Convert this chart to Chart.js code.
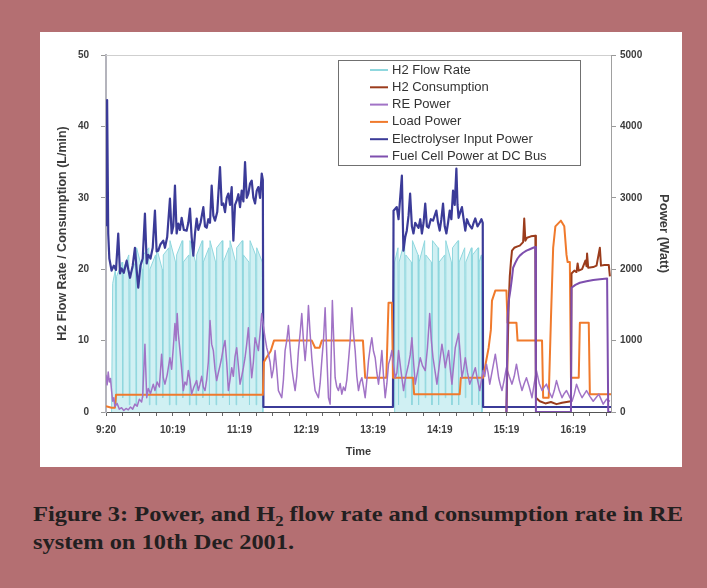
<!DOCTYPE html>
<html><head><meta charset="utf-8">
<script src="https://cdn.jsdelivr.net/npm/chart.js@4.4.1/dist/chart.umd.min.js"></script>
<style>
html,body{margin:0;padding:0;width:707px;height:588px;background:#b46f72;overflow:hidden}
#panel{position:absolute;left:40px;top:32px;width:642px;height:435px;background:#fff}
#c{position:absolute;left:0;top:0}
#cap{position:absolute;left:33px;top:500px;font:bold 22px 'Liberation Serif','Times New Roman',serif;line-height:28px;color:#231f20;white-space:nowrap;transform:scaleX(1.11);transform-origin:0 0}
#cap sub{font-size:15px;vertical-align:-5px;line-height:0}
</style></head><body>
<div id="panel"><canvas id="c" width="642" height="435"></canvas></div>
<div id="cap">Figure 3: Power, and H<sub>2</sub> flow rate and consumption rate in RE<br>system on 10th Dec 2001.</div>
<script>
// time axis: minutes after 9:20
const timeLabels = ['9:20','10:19','11:19','12:19','13:19','14:19','15:19','16:19'];
const xTickValues = [0,15,30,45,60,75,90,105,120,135,150,165,180,195,210,225,240,255,270,285,300,315,330,345,360,375,390,405,420,435,450];
const leftTicks = [0,10,20,30,40,50];
const rightTicks = [0,1000,2000,3000,4000,5000];

// [minute, L/min]
const h2FlowRate = [[5,0],[6,18],[8.5,20],[9,1],[9.5,19],[14.5,21],[15,2],[15.5,20],[20.5,22],[21,1],[21.5,19],[26.5,21],[27,1],[27.5,23],[32.5,20],[33,2],[33.5,22],[38.5,23],[39,1],[39.5,20],[44.5,22],[45,1],[45.5,23],[50.5,20],[51,2],[51.5,22],[56.5,23],[57,1],[57.5,24],[62.5,21],[63,1],[63.5,22],[68.5,24],[69,2],[69.5,21],[74.5,22],[75,1],[75.5,24],[80.5,21],[81,1],[81.5,22],[86.5,24],[87,2],[87.5,21],[92.5,23],[93,1],[93.5,24],[98.5,21],[99,1],[99.5,23],[104.5,24],[105,2],[105.5,21],[110.5,23],[111,1],[111.5,24],[116.5,21],[117,1],[117.5,23],[122.5,24],[123,2],[123.5,22],[128.5,21],[129,1],[129.5,24],[134.5,22],[135,1],[135.5,23],[140.5,21],[141,0],[200,null],[259,0],[259.5,21],[262.5,23],[263,1],[263.5,21],[268.5,24],[269,2],[269.5,22],[274.5,21],[275,1],[275.5,24],[280.5,22],[281,1],[281.5,21],[286.5,24],[287,2],[287.5,22],[292.5,21],[293,1],[293.5,24],[298.5,23],[299,1],[299.5,21],[304.5,22],[305,2],[305.5,24],[310.5,21],[311,1],[311.5,23],[316.5,24],[317,1],[317.5,21],[322.5,23],[323,2],[323.5,21],[328.5,23],[329,1],[329.5,22],[334.5,23],[335,1],[335.5,21],[337.5,22],[338,0]];

// [minute, L/min]
const h2Consumption = [[360,0],[361,8],[362,15],[363,19],[364,21],[365,22.6],[367,23],[370,23.2],[372,23.3],[375,23.8],[376,27.1],[377,24],[378.5,24.4],[382,24.6],[386,24.7],[386.5,2],[390,1.5],[395,1.2],[400,1.4],[405,1.1],[410,1.3],[418,1.5],[418.5,19.4],[421,19.8],[423,19.6],[424,20.8],[425,19.8],[428,20],[431,21.2],[432,20.4],[432.5,22.2],[433.5,20.2],[438,20.3],[441,20.5],[444,23],[445,20.5],[448,20.6],[452,20.6],[453,19]];

// [minute, W]
const rePower = [[0,520],[1,380],[2,560],[3,420],[4,470],[5,300],[6,150],[7,200],[8,80],[10,120],[12,40],[14,60],[16,20],[18,50],[20,30],[22,70],[24,40],[26,110],[28,80],[30,180],[32,140],[33,230],[35,950],[36.6,200],[38,330],[40,260],[42.5,390],[44,300],[46,420],[48,350],[50,810],[51.5,480],[53,390],[55,520],[57.5,760],[59,600],[60.5,900],[62,1240],[63,1000],[64,1380],[65,1100],[66.5,860],[68,600],[69.5,300],[71,420],[72.5,380],[74,580],[75.5,450],[77,250],[79,350],[81.5,440],[83,300],[84.5,390],[86,500],[87.5,350],[89,300],[90.5,450],[92,700],[93.5,1280],[95,950],[96.5,860],[98,600],[99.5,440],[101,550],[102.5,650],[104,760],[105.5,900],[107,1000],[108.5,700],[110,300],[111.5,450],[113,620],[114.5,500],[116,780],[117.5,900],[119,650],[120.5,390],[122,500],[123.5,620],[125,760],[126.5,950],[128,1180],[129.5,800],[131,480],[132.5,700],[134,1040],[135.5,950],[137,860],[138.5,1100],[140,1380],[141.5,1200],[143,1040],[144.5,900],[146,810],[147.5,700],[149,480],[150.5,600],[152,860],[153.5,600],[155,300],[156.5,250],[158,200],[159.5,450],[161,860],[162.5,1000],[164,1210],[165.5,900],[167,620],[168.5,450],[170,300],[171.5,500],[173,860],[174.5,1100],[176,1380],[177.5,1000],[179,720],[180.5,1000],[182,1490],[183.5,1100],[185,760],[186.5,500],[188,300],[189.5,250],[191,200],[192.5,400],[194,720],[195.5,1000],[197,1460],[198.5,800],[200,200],[201.5,110],[203.5,1560],[205,900],[206,480],[207.5,350],[209,300],[210.5,400],[212,250],[213.5,350],[215,300],[216.5,450],[218,720],[219.5,1000],[221,1460],[222.5,1100],[224,860],[225.5,500],[227,300],[228.5,420],[230,480],[231.5,350],[233,200],[234.5,450],[236,720],[237.5,900],[239,1040],[240.5,850],[242,760],[243.5,550],[245,390],[246.5,600],[248,860],[249.5,500],[251,200],[252.5,400],[254,670],[255.5,750],[257,860],[258.5,650],[260,480],[261.5,550],[263,860],[265,600],[267.5,300],[269.5,500],[272,670],[273.5,800],[275,1040],[276.5,700],[278,390],[280,550],[282.5,760],[284.5,650],[287,580],[289,900],[291,1380],[292.5,1000],[294,760],[296,550],[297.5,390],[300,700],[302,950],[303.5,800],[305,620],[306.5,750],[308,860],[309.5,600],[311,390],[312.5,650],[314,900],[315.5,1000],[317,1100],[318.5,800],[320,480],[321.5,600],[323,760],[325,550],[327,390],[329.5,500],[332,620],[334,450],[336,300],[337.5,450],[339,580],[340.5,500],[342,670],[343.5,550],[345,390],[347.5,600],[350,810],[351.5,650],[353,480],[354.5,380],[356,300],[358,450],[360,620],[362.5,500],[365,390],[367,500],[369,670],[371.5,450],[374,300],[376,400],[378,480],[380.5,350],[383,200],[385,400],[387,580],[389.5,400],[392,300],[394,350],[396,390],[398.5,280],[401,200],[403,300],[405,440],[407.5,300],[410,200],[412,260],[414,300],[416.5,220],[419,150],[421,250],[423,390],[425.5,280],[428,200],[430,250],[432,300],[435,220],[438,150],[440.5,200],[443,250],[445,180],[447,110],[450,180],[453,150]];

// [minute, W]
const loadPower = [[0,80],[5,60],[8,60],[9,240],[141,240],[142,700],[145,780],[148,850],[151,1000],[185,1000],[188,900],[192,900],[194,1000],[231,1000],[233,480],[252,480],[253,1000],[254,1530],[257,1530],[258,480],[276,480],[277,250],[318,250],[319,480],[339,480],[341,650],[344,900],[346,1150],[347,1560],[350,1700],[360,1700],[361,1250],[369,1250],[370,1000],[392,1000],[393,200],[398,200],[400,1300],[402,2300],[404,2600],[409,2680],[412,2600],[414,2200],[415,2100],[417,2100],[418,480],[425,480],[426,1250],[434,1250],[435,250],[454,250]];

// [minute, W]
const electrolyserPower = [[0,2600],[1,4370],[2,2500],[3,2150],[5,1980],[7,2050],[9,1990],[11,2500],[12.6,1940],[14,2010],[16,1950],[18.6,2120],[20,2000],[21.6,1880],[24,2050],[26,2300],[27.5,2000],[29,1740],[31,2050],[33,2150],[35,2780],[36.6,2080],[38,2200],[40,2150],[42,2300],[44,2820],[45.5,2250],[47,2260],[49,2350],[51.5,2400],[53,2300],[55,2450],[57.5,2990],[59,2500],[60.5,2600],[62,3170],[63.5,2500],[65,2640],[66.5,2550],[68,2720],[70,2550],[72.5,2540],[74,2650],[75.5,2850],[77,2450],[78.5,2190],[80,2500],[81.5,2710],[83,2550],[85,2650],[87.5,2870],[89,2600],[90.5,2580],[92,2700],[93.5,2650],[95,3170],[96.5,2750],[98,2680],[100,2800],[102.5,3430],[104,2900],[105.5,2920],[107,2800],[108.5,3000],[110,3060],[111.5,2900],[113,3150],[114.5,2400],[116,2900],[117.5,2960],[119,3050],[120.5,2870],[122,3100],[123.5,2950],[125,3500],[126.5,3000],[128,3060],[129.5,3200],[131,3240],[132.5,3000],[134,2920],[135.5,3100],[137,3150],[138.5,3000],[140,3340],[141,3250],[141.5,70],[258,70],[258.5,2820],[261.4,2870],[263,2700],[266,3310],[267.4,2260],[269,2450],[270.4,2540],[272,2750],[273.4,3060],[275,2600],[276.4,2500],[278,2650],[281,2580],[282.5,2700],[284,2500],[285.5,2650],[287,2920],[288.5,2600],[290,2580],[292,2700],[294,2680],[295.5,2750],[297,2820],[298.5,2650],[300,2540],[301.5,2700],[303,2920],[304.5,2600],[306,2500],[307.5,2650],[309,2820],[310.5,2700],[312,3100],[313.5,2900],[315,3410],[316,2900],[317,2720],[318.5,2800],[320,2870],[321.5,2700],[323,2540],[324.5,2700],[326,2640],[327.5,2600],[329,2570],[330.5,2650],[332,2710],[334,2600],[336,2650],[337.5,2700],[338.7,2650],[339,70],[454,70]];

// [minute, W]
const fuelCellPower = [[360,0],[361,1300],[362,1550],[363.5,1700],[365,1880],[366,2020],[368,2090],[370,2150],[372,2190],[375,2230],[378,2260],[381,2280],[384,2300],[386,2310],[386.5,0],[418,0],[418.5,1740],[422,1780],[426,1810],[432,1830],[438,1850],[444,1860],[450.5,1870],[451.5,0],[454,0]];

const pts = arr => arr.map(p => ({x: p[0], y: p[1]}));

const FONT = "'Liberation Sans', Arial, sans-serif";
Chart.defaults.font.family = FONT;
Chart.defaults.color = '#3c3c3c';

const frame = {
  id: 'frame',
  beforeDatasetsDraw(chart) {
    const {ctx, chartArea: a} = chart;
    ctx.save();
    ctx.strokeStyle = '#cfcfcf';
    ctx.lineWidth = 1;
    ctx.beginPath();
    ctx.moveTo(a.left, a.top + 0.5);
    ctx.lineTo(a.right, a.top + 0.5);
    ctx.stroke();
    ctx.restore();
  }
};

const legendBox = {
  id: 'legendBox',
  afterDraw(chart) {
    const c = chart.ctx;
    const L = 298, T = 28, W = 242, H = 105;
    c.save();
    c.fillStyle = '#fff';
    c.fillRect(L, T, W, H);
    c.strokeStyle = '#707070';
    c.lineWidth = 1;
    c.strokeRect(L + 0.5, T + 0.5, W, H);
    c.font = "13px " + FONT;
    c.textBaseline = 'middle';
    chart.data.datasets.forEach((d, i) => {
      const y = T + 10 + i * 17.3;
      c.strokeStyle = d.borderColor;
      c.lineWidth = 2;
      c.beginPath();
      c.moveTo(L + 32, y);
      c.lineTo(L + 50, y);
      c.stroke();
      c.fillStyle = '#333';
      c.fillText(d.label, L + 54, y);
    });
    c.restore();
  }
};

const tickFont = {size: 10, weight: 'bold'};

new Chart(document.getElementById('c'), {
  type: 'line',
  data: {
    datasets: [
      {label: 'H2 Flow Rate', data: pts(h2FlowRate), yAxisID: 'yL', borderColor: '#8fd7de', backgroundColor: '#d0f0f3', fill: 'origin', borderWidth: 1, order: 6},
      {label: 'H2 Consumption', data: pts(h2Consumption), yAxisID: 'yL', borderColor: '#9b3c1c', borderWidth: 2, order: 2},
      {label: 'RE Power', data: pts(rePower), yAxisID: 'yR', borderColor: '#a173c6', borderWidth: 1.5, order: 3},
      {label: 'Load Power', data: pts(loadPower), yAxisID: 'yR', borderColor: '#f07a2c', borderWidth: 2, order: 4},
      {label: 'Electrolyser Input Power', data: pts(electrolyserPower), yAxisID: 'yR', borderColor: '#3b3b98', borderWidth: 2.2, order: 5},
      {label: 'Fuel Cell Power at DC Bus', data: pts(fuelCellPower), yAxisID: 'yR', borderColor: '#7e4fae', borderWidth: 2, order: 1}
    ]
  },
  options: {
    responsive: false,
    animation: false,
    layout: {padding: {top: 23, left: 0, right: 0, bottom: 0}},
    elements: {point: {radius: 0}, line: {tension: 0, borderJoinStyle: 'round'}},
    plugins: {legend: {display: false}, tooltip: {enabled: false}},
    scales: {
      x: {
        type: 'linear', min: 0, max: 454,
        afterBuildTicks: a => { a.ticks = xTickValues.map(v => ({value: v})); },
        ticks: {autoSkip: false, maxRotation: 0, padding: 8, font: tickFont,
          callback: v => (v % 60 === 0 ? timeLabels[v / 60] : '')},
        grid: {drawOnChartArea: false, tickLength: 4, tickColor: '#666'},
        border: {color: '#555', width: 1},
        title: {display: true, text: 'Time', font: {size: 11, weight: 'bold'}, padding: {top: 0, bottom: 8}},
        afterFit: s => { s.height = 55; }
      },
      yL: {
        position: 'left', min: 0, max: 50,
        afterBuildTicks: a => { a.ticks = leftTicks.map(v => ({value: v})); },
        ticks: {padding: 12, font: tickFont, callback: v => String(v)},
        grid: {drawOnChartArea: false, tickLength: 5, tickColor: '#999'},
        border: {color: '#b4b4bc', width: 2},
        title: {display: true, text: 'H2 Flow Rate / Consumption (L/min)', font: {size: 12.5, weight: 'bold'}, padding: {top: 15, bottom: 0}},
        afterFit: s => { s.width = 66; }
      },
      yR: {
        position: 'right', min: 0, max: 5000,
        afterBuildTicks: a => { a.ticks = rightTicks.map(v => ({value: v})); },
        ticks: {padding: 4, font: tickFont, callback: v => String(v)},
        grid: {drawOnChartArea: false, tickLength: 5, tickColor: '#999'},
        border: {color: '#a0a0a0', width: 1},
        title: {display: true, text: 'Power (Watt)', font: {size: 13, weight: 'bold'}, padding: {top: 11, bottom: 0}},
        afterFit: s => { s.width = 71; }
      }
    }
  },
  plugins: [frame, legendBox]
});
</script>
</body></html>
